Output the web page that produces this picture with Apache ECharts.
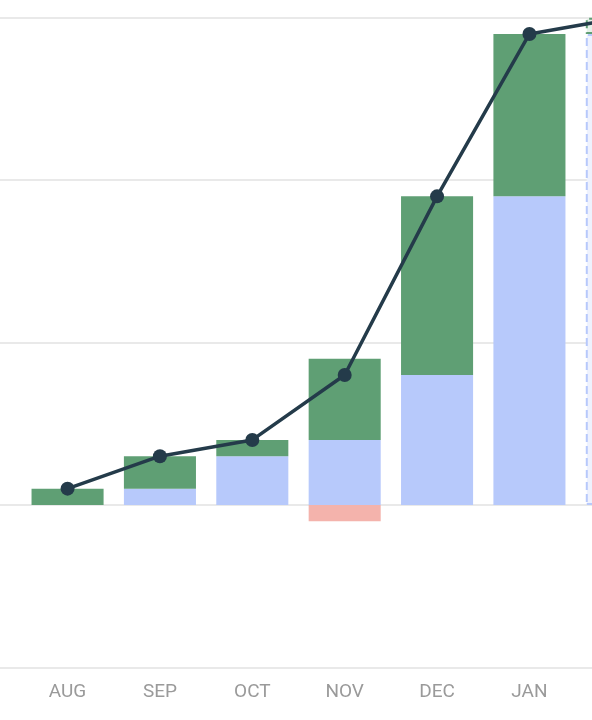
<!DOCTYPE html>
<html>
<head>
<meta charset="utf-8">
<script src="https://cdn.jsdelivr.net/npm/echarts@6/dist/echarts.min.js"></script>
<style>
html,body{margin:0;padding:0;background:#fff;overflow:hidden;width:592px;height:720px;}
#chart{position:absolute;left:-70.9px;top:0;width:739.4px;height:720px;}
</style>
</head>
<body>
<div id="chart"></div>
<script>
// leading blank slot = cropped-off area left of AUG
const categories = ['', 'AUG', 'SEP', 'OCT', 'NOV', 'DEC', 'JAN', 'FEB'];
const baseValues = [null, 0, 0.1, 0.3, 0.4, 0.8, 1.9, 2.9];
const gainValues = [null, 0.1, 0.2, 0.1, 0.5, 1.1, 1.0, 0.1];
const lossValues = [null, 0, 0, 0, -0.1, 0, 0, 0];
const totalValues = [null, 0.1, 0.3, 0.4, 0.8, 1.9, 2.9, 3.0];
const projectedIndex = 7;

const BLUE = '#b7c9fb', GREEN = '#5f9f74', RED = '#f4b3ac', LINE = '#243b4a';

function styled(values, projStyle) {
  return values.map((v, i) => i === projectedIndex ? { value: v, itemStyle: projStyle } : v);
}

const chart = echarts.init(document.getElementById('chart'), null, { renderer: 'canvas' });
chart.setOption({
  animation: false,
  grid: { left: 0, right: 0, top: 17.7, bottom: 52.7, outerBoundsMode: 'none', containLabel: false },
  xAxis: {
    type: 'category',
    data: categories,
    axisLine: { show: false },
    axisTick: { show: false },
    axisLabel: { color: '#9a9a9a', fontSize: 19, fontFamily: 'Roboto', margin: 15 }
  },
  yAxis: {
    type: 'value',
    min: -1, max: 3, interval: 1,
    axisLabel: { show: false },
    axisLine: { show: false },
    axisTick: { show: false },
    splitLine: { lineStyle: { color: '#e2e2e2', width: 1.5 } }
  },
  series: [
    {
      type: 'bar', stack: 'flow', barCategoryGap: '22%',
      itemStyle: { color: BLUE },
      data: styled(baseValues, { color: '#eef2fe', borderColor: BLUE, borderType: 'dashed', borderWidth: 2 })
    },
    {
      type: 'bar', stack: 'flow',
      itemStyle: { color: GREEN },
      data: styled(gainValues, { color: '#e6f1e9', borderColor: GREEN, borderType: 'dashed', borderWidth: 2 })
    },
    {
      type: 'bar', stack: 'flow',
      itemStyle: { color: RED },
      data: lossValues
    },
    {
      type: 'line', z: 10,
      data: totalValues,
      symbol: 'circle', symbolSize: 14,
      itemStyle: { color: LINE },
      lineStyle: { color: LINE, width: 3.5 }
    }
  ]
});
</script>
</body>
</html>
